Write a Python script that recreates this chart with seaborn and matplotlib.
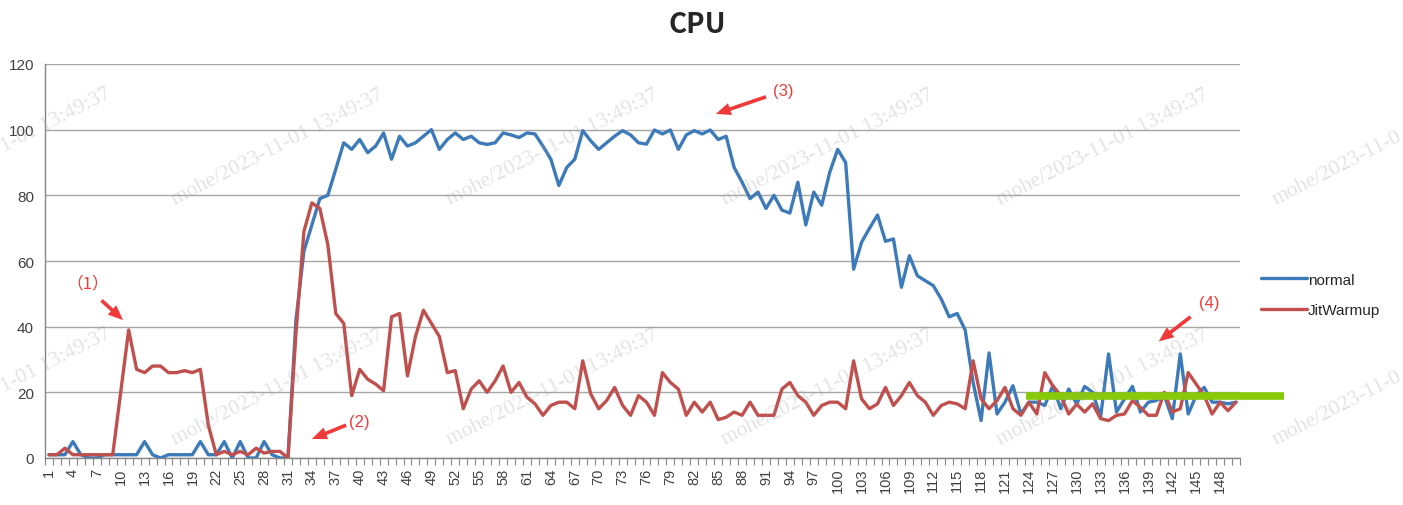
import numpy as np
import pandas as pd
import matplotlib
matplotlib.use('Agg')
import matplotlib.pyplot as plt
import seaborn as sns
from matplotlib.lines import Line2D

# ---------------- data ----------------
categories = list(range(1, 151))
series_names = ['normal', 'JitWarmup']

normal = [1, 1, 1, 5, 1, 0, 0, 1, 1, 1, 1, 1, 5, 1, 0, 1, 1, 1, 1, 5,
          1, 1, 5, 0, 5, 0, 0, 5, 1, 0, 0,
          42, 63, 71, 79, 80, 88, 96, 94, 97, 93, 95, 99, 91, 98, 95, 96, 98, 100, 94,
          97, 99, 97, 98, 96, 95.5, 96,
          99, 98.4, 97.6, 99, 98.7, 95, 91, 83, 88.5, 91, 99.7, 96.6, 94, 96, 98, 99.7,
          98.4, 96, 95.6, 99.9, 98.7, 99.9, 94, 98.4, 99.7, 98.7, 99.9, 97, 98,
          88.5, 84, 79, 81, 76, 80, 75.5, 74.6, 84, 71, 81, 77, 87, 94, 90, 57.5, 65.7,
          70, 74, 66, 66.7, 52, 61.6, 55.5, 54, 52.5, 48.4, 43, 44,
          39, 23, 11.4, 32, 13.4, 17, 22, 13.4, 17, 17, 16, 22, 15, 21, 16.4, 21.8, 20, 12.5,
          31.7, 14, 18, 21.8, 14, 17, 17.5, 19, 12, 31.7, 13.4, 19, 21.5, 17, 17, 16.5, 17]

jit_warmup = [1, 1, 3, 1, 1, 1, 1, 1, 1, 20, 39, 27, 26, 28, 28, 26, 26, 26.6, 26, 27,
              10, 1, 2, 1, 2, 1, 3, 1.5, 2, 2, 0,
              38, 69, 77.7, 76, 65, 44, 41, 19, 27, 24, 22.5, 20.5, 43, 44, 25, 37, 45, 41, 37,
              26, 26.6, 15, 21, 23.5, 20, 23.5,
              28, 20, 23, 18.5, 16.5, 13, 16, 17, 17, 15, 29.6, 19.5, 15, 17.5, 21.5, 16, 13,
              19, 17, 13, 26, 23, 21, 13, 17, 14, 17, 11.7, 12.4,
              14, 13, 17, 13, 13, 13, 21, 23, 19, 17, 13, 16, 17, 17, 15, 29.6, 18, 15, 16.5,
              21.5, 16, 19, 23, 19, 17, 13, 16, 17, 16.5,
              15, 29.6, 18, 15, 17.5, 21.5, 15, 13, 17, 13.4, 26, 22, 19, 13.4, 16.4, 14, 16.5, 12,
              11.4, 13, 13.4, 17.5, 15.4, 13, 13, 20, 14, 15, 26, 22.5, 19, 13.4, 17, 14.4, 17]

y_ticks = [0, 20, 40, 60, 80, 100, 120]
x_tick_values = list(range(1, 151, 3))
x_tick_labels = [str(v) for v in x_tick_values]

green_level = 19
green_start = 123.6
green_end = 156

title_text = 'CPU'
watermark_text = 'mohe/2023-11-01 13:49:37'
watermark_left_part = '1-01 13:49:37'
watermark_right_part = 'mohe/2023-11-0'

annot_labels = ['（1）', '(2)', '(3)', '(4)']

# ---------------- styling ----------------
sns.set_theme(style='white')
plt.rcParams['font.family'] = ['Liberation Sans', 'Noto Sans CJK SC', 'DejaVu Sans']

W, H = 1403, 506
fig = plt.figure(figsize=(W / 100, H / 100), dpi=100)
ax = fig.add_axes([45 / W, 1 - 459 / H, (1240 - 45) / W, (459 - 65) / H])

df = pd.DataFrame({
    'cat': categories * 2,
    'value': normal + jit_warmup,
    'series': [series_names[0]] * len(normal) + [series_names[1]] * len(jit_warmup),
})
palette = {'normal': '#3D7AB9', 'JitWarmup': '#C0504D'}
sns.lineplot(data=df, x='cat', y='value', hue='series', palette=palette,
             linewidth=2.4, ax=ax, legend=False, estimator=None, zorder=3)

ax.set_xlim(0.5, 150.5)
ax.set_ylim(0, 120)
ax.set_yticks(y_ticks)
ax.set_yticklabels([str(v) for v in y_ticks], fontsize=11, color='#404040')
ax.set_xticks(x_tick_values)
ax.set_xticklabels(x_tick_labels, rotation=90, fontsize=10.5, color='#404040')
ax.set_xticks(np.arange(0.5, 151, 1), minor=True)
ax.tick_params(axis='x', which='major', length=0, pad=7)
ax.tick_params(axis='x', which='minor', length=5, color='#868686', width=0.8, direction='out', bottom=True)
ax.tick_params(axis='y', which='major', length=0, pad=8)
ax.set_xlabel('')
ax.set_ylabel('')
ax.yaxis.grid(True, color='#a6a6a6', linewidth=1)
ax.xaxis.grid(False)
for s in ['top', 'right']:
    ax.spines[s].set_visible(False)
for s in ['left', 'bottom']:
    ax.spines[s].set_color('#868686')
    ax.spines[s].set_linewidth(1)

# green reference line
ax.hlines(green_level, green_start, green_end, colors='#88C90A', linewidth=5.5,
          clip_on=False, zorder=6)

# annotations
red = '#F03A3A'
annots = [
    (annot_labels[0], (5.8, 53.3), (7.6, 48.0), (10.3, 42.0)),
    (annot_labels[1], (39.9, 11.2), (38.3, 10.0), (34.0, 5.8)),
    (annot_labels[2], (93.2, 112.0), (91.0, 110.0), (84.7, 104.8)),
    (annot_labels[3], (146.6, 47.3), (144.3, 43.0), (140.3, 35.5)),
]
for lab, tpos, tail, head in annots:
    fam = ['Noto Sans CJK SC', 'DejaVu Sans'] if '（' in lab else ['Liberation Sans']
    ax.text(tpos[0], tpos[1], lab, color=red, fontsize=12, ha='center', va='center',
            family=fam, zorder=7)
    ax.annotate('', xy=head, xytext=tail,
                arrowprops=dict(arrowstyle='simple,head_length=0.9,head_width=0.75,tail_width=0.22',
                                color=red, lw=0, shrinkA=0, shrinkB=0), zorder=7)

# legend
handles = [Line2D([0], [0], color=palette[n], lw=2.4) for n in series_names]
fig.legend(handles, series_names, loc='center left', bbox_to_anchor=(1247 / W, 1 - 296 / H),
           frameon=False, fontsize=11, handlelength=3.0, handletextpad=0.1, labelspacing=1.1)

# title
fig.text(697 / W, 1 - 25 / H, title_text, ha='center', va='center', fontsize=20,
         fontweight='bold', family=['Noto Sans CJK SC', 'DejaVu Sans'])

# watermarks
wm_style = dict(rotation=27, rotation_mode='anchor', ha='left', va='baseline',
                fontsize=15.5, family='Liberation Serif', color='#9a9a9a', alpha=0.28, zorder=10)
for row_y in [205, 445]:
    # partial text at the left edge
    fig.text(4 / W, 1 - (row_y - 53) / H, watermark_left_part, **wm_style)
    for k in range(0, 4):
        x0 = 175 + k * 275
        fig.text(x0 / W, 1 - row_y / H, watermark_text, **wm_style)
    # partial text at the right edge
    fig.text(1275 / W, 1 - row_y / H, watermark_right_part, **wm_style)

fig.savefig('out.png', dpi=100)
